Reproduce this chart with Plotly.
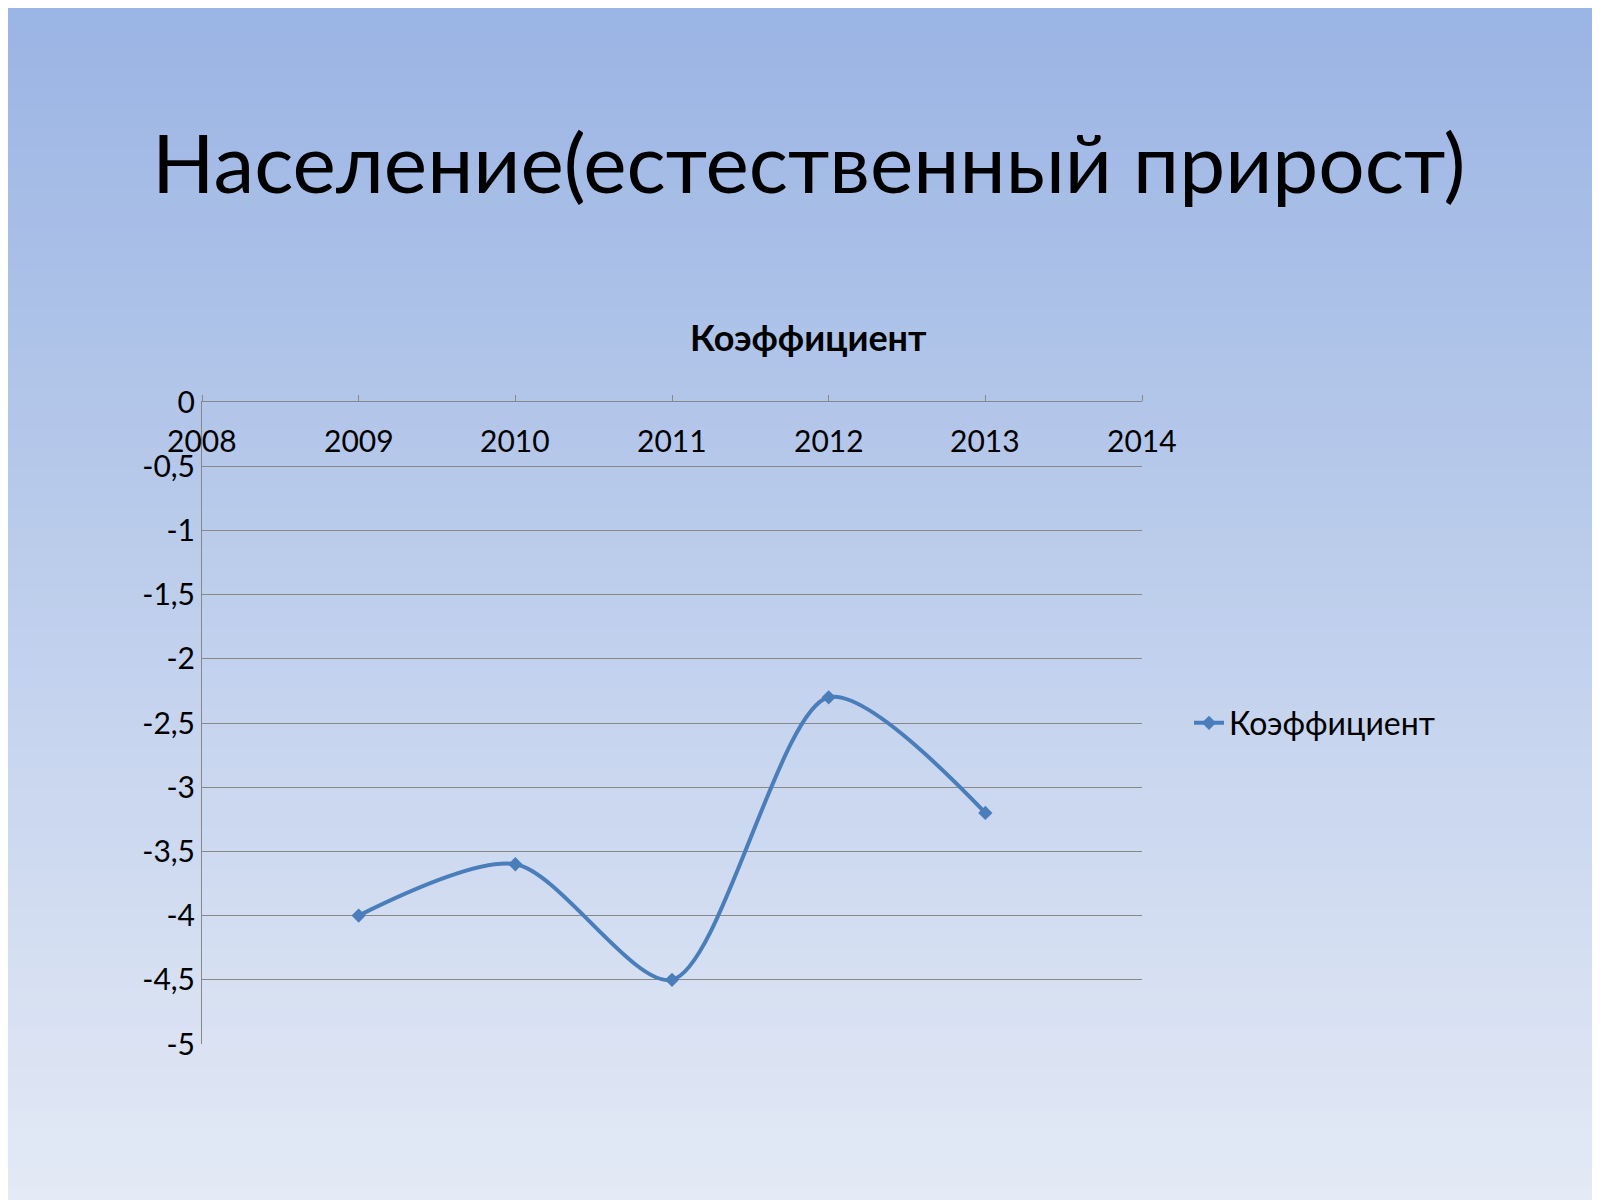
import numpy as np
import plotly.graph_objects as go

# data
years = [2009, 2010, 2011, 2012, 2013]
coef = [-4.0, -3.6, -4.5, -2.3, -3.2]
series_name = "Коэффициент"
x_ticks = [2008, 2009, 2010, 2011, 2012, 2013, 2014]
y_ticks = [0, -0.5, -1, -1.5, -2, -2.5, -3, -3.5, -4, -4.5, -5]
y_labels = ["0", "-0,5", "-1", "-1,5", "-2", "-2,5", "-3", "-3,5", "-4", "-4,5", "-5"]

W, H = 1600, 1200
font = "Lato"

fig = go.Figure()
fig.add_trace(go.Scatter(
    x=years, y=coef, name=series_name, mode="lines+markers",
    line=dict(color="#4a7ebb", width=4, shape="spline", smoothing=0.8),
    marker=dict(symbol="diamond", size=11, color="#4a7ebb"),
))

# vertical background gradient made of thin bands
top = np.array([0x9b, 0xb5, 0xe4])
bot = np.array([0xe4, 0xea, 0xf6])
plot_l, plot_r, plot_t, plot_b = 194, 1134, 394, 1036
to_paper = lambda py: (plot_b - py) / (plot_b - plot_t)
to_paper_x = lambda px: (px - plot_l) / (plot_r - plot_l)
shapes = []
n = 60
for i in range(n):
    c = top + (bot - top) * i / (n - 1)
    shapes.append(dict(type="rect", xref="paper", yref="paper", layer="below",
                       x0=to_paper_x(-20), x1=to_paper_x(W + 20),
                       y0=to_paper(H * (i + 1) / n + 1), y1=to_paper(H * i / n),
                       fillcolor="rgb(%d,%d,%d)" % tuple(c.astype(int)), line=dict(width=0)))

annotations = [
    dict(text="Население(естественный прирост)", xref="paper", yref="paper",
         x=to_paper_x(800), y=to_paper(153), yanchor="middle",
         showarrow=False, font=dict(size=82, family=font)),
    dict(text="<b>Коэффициент</b>", xref="paper", yref="paper",
         x=to_paper_x(800), y=to_paper(329), yanchor="middle",
         showarrow=False, font=dict(size=36, family=font)),
]
# x tick labels sit just below the zero line
for xv in x_ticks:
    annotations.append(dict(text=str(xv), x=xv, xref="x", y=0, yref="y",
                            yanchor="top", yshift=-18, showarrow=False,
                            font=dict(size=30, family=font)))

fig.update_layout(
    width=W, height=H,
    margin=dict(l=plot_l, r=W - plot_r, t=plot_t, b=H - plot_b),
    paper_bgcolor="#c0d0ec", plot_bgcolor="rgba(0,0,0,0)",
    shapes=shapes,
    annotations=annotations,
    font=dict(family=font, color="black"),
    showlegend=True,
    legend=dict(x=1.05, y=0.5, yanchor="middle", font=dict(size=32), bgcolor="rgba(0,0,0,0)"),
    xaxis=dict(range=[2008, 2014], tickvals=x_ticks, side="top", showticklabels=False,
               ticks="outside", ticklen=6, tickcolor="#888",
               showgrid=False, showline=True, linecolor="#888", zeroline=False),
    yaxis=dict(range=[-5, 0], tickvals=y_ticks, ticktext=y_labels,
               showgrid=True, gridcolor="#888", gridwidth=1, showline=True, linecolor="#888",
               zeroline=False, tickfont=dict(size=30, color="black"), ticks=""),
)
fig.write_html("out.html")
